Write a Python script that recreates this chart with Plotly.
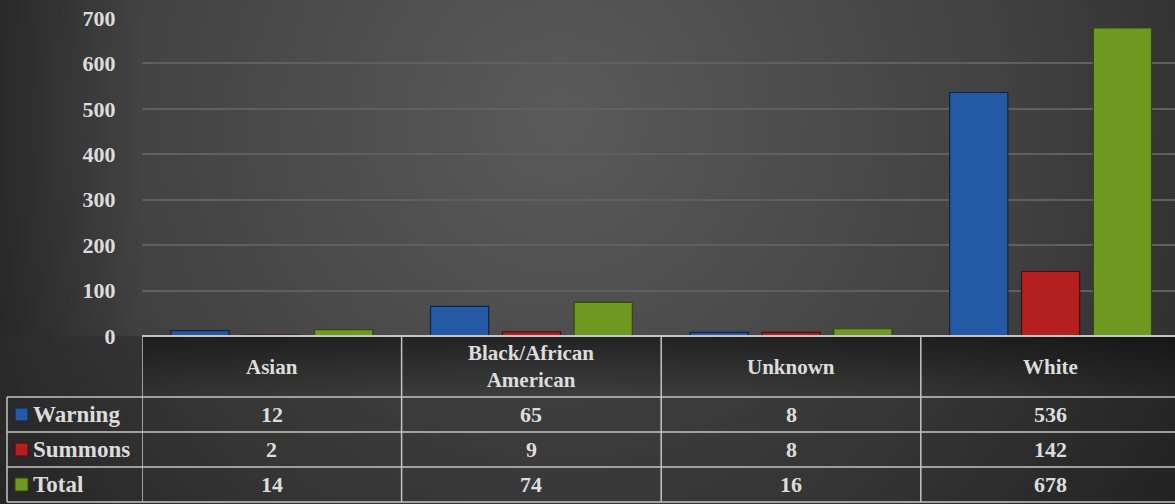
import plotly.graph_objects as go
import urllib.parse

categories = ["Asian", "Black/African American", "Unknown", "White"]
header_labels = ["Asian", "Black/African<br>American", "Unknown", "White"]
series_names = ["Warning", "Summons", "Total"]
warning = [12, 65, 8, 536]
summons = [2, 9, 8, 142]
total = [14, 74, 16, 678]
y_ticks = [0, 100, 200, 300, 400, 500, 600, 700]

values = [warning, summons, total]
fills = ["#2459a6", "#b41f1f", "#6e9a22"]
outlines = ["#0e2446", "#4d0c0c", "#33490f"]

W, H = 1175, 504
ML, MR, MT, MB = 142, 0, 18, 168
PW, PH = W - ML - MR, H - MT - MB

def px(x):
    return (x - ML) / PW

def py(y):
    return (H - MB - y) / PH

FONT = "Liberation Serif"
TXT = "#dcdcdc"

fig = go.Figure()
for name, vals, fc, oc in zip(series_names, values, fills, outlines):
    fig.add_trace(go.Bar(
        x=categories, y=vals, name=name,
        marker=dict(color=fc, line=dict(color=oc, width=1.2)),
        showlegend=False,
    ))

# background svg
svg = f'''<svg xmlns="http://www.w3.org/2000/svg" width="{W}" height="{H}" viewBox="0 0 {W} {H}" preserveAspectRatio="none">
<defs>
<radialGradient id="g" cx="560" cy="120" r="780" gradientUnits="userSpaceOnUse">
<stop offset="0" stop-color="#5a5a5a"/><stop offset="0.6" stop-color="#404040"/><stop offset="1" stop-color="#262626"/>
</radialGradient>
<linearGradient id="s" x1="0" y1="0" x2="0" y2="1">
<stop offset="0" stop-color="#000" stop-opacity="0.45"/><stop offset="1" stop-color="#000" stop-opacity="0.0"/>
</linearGradient>
<linearGradient id="l" x1="0" y1="0" x2="1" y2="0">
<stop offset="0" stop-color="#000" stop-opacity="0.25"/><stop offset="1" stop-color="#000" stop-opacity="0"/>
</linearGradient>
</defs>
<rect x="0" y="0" width="{W}" height="{H}" fill="url(#g)"/>
<rect x="0" y="0" width="{ML}" height="{H - MB}" fill="url(#l)"/>
<rect x="0" y="{H - MB}" width="{W}" height="{MB}" fill="#000" fill-opacity="0.18"/>
<rect x="{ML}" y="{H - MB}" width="{W - ML}" height="60" fill="url(#s)"/>
</svg>'''
src = "data:image/svg+xml;charset=utf-8," + urllib.parse.quote(svg)
fig.add_layout_image(dict(source=src, xref="paper", yref="paper",
                          x=px(0), y=py(0), sizex=W / PW, sizey=H / PH,
                          sizing="stretch", layer="below", xanchor="left", yanchor="top"))

shapes = []
LC = "#c4c4c4"
row_y = [336, 397, 432, 467, 502]
shapes.append(dict(type="line", xref="paper", yref="paper", x0=0, x1=1.01, y0=py(336), y1=py(336),
                   line=dict(color=LC, width=2)))
for yy in row_y[1:]:
    shapes.append(dict(type="line", xref="paper", yref="paper", x0=px(7), x1=1.01, y0=py(yy), y1=py(yy),
                       line=dict(color=LC, width=1.5)))
shapes.append(dict(type="line", xref="paper", yref="paper", x0=px(7), x1=px(7), y0=py(397), y1=py(502),
                   line=dict(color=LC, width=1.5)))
for xb in [-0.5, 0.5, 1.5, 2.5]:
    shapes.append(dict(type="line", xref="x", yref="paper", x0=xb, x1=xb, y0=py(336), y1=py(502),
                       line=dict(color=LC, width=1.5)))

annotations = []
hdr_y = py(366.5)
for i, lab in enumerate(header_labels):
    annotations.append(dict(x=i, y=hdr_y, xref="x", yref="paper", text=lab, showarrow=False,
                            font=dict(family=FONT, size=21, color=TXT, weight="bold"),
                            xanchor="center", yanchor="middle"))
row_centers = [414.5, 449.5, 484.5]
for r, (name, vals, fc, oc) in enumerate(zip(series_names, values, fills, outlines)):
    yc = row_centers[r]
    shapes.append(dict(type="rect", xref="paper", yref="paper", x0=px(15), x1=px(28),
                       y0=py(yc - 6.5), y1=py(yc + 6.5), fillcolor=fc, line=dict(color=oc, width=1)))
    annotations.append(dict(x=px(31), y=py(yc), xref="paper", yref="paper", text=name, showarrow=False,
                            font=dict(family=FONT, size=23, color=TXT, weight="bold"),
                            xanchor="left", yanchor="middle"))
    for i, v in enumerate(vals):
        annotations.append(dict(x=i, y=py(yc), xref="x", yref="paper", text=str(v), showarrow=False,
                                font=dict(family=FONT, size=22, color=TXT, weight="bold"),
                                xanchor="center", yanchor="middle"))

fig.update_layout(
    width=W, height=H,
    margin=dict(l=ML, r=MR, t=MT, b=MB, pad=0),
    paper_bgcolor="#2e2e2e",
    plot_bgcolor="rgba(0,0,0,0)",
    barmode="group", bargap=0.17, bargroupgap=0.19,
    font=dict(family=FONT, color=TXT, size=22, weight="bold"),
    xaxis=dict(type="category", range=[-0.5, -0.5 + PW / 259.6], showticklabels=False,
               showgrid=False, zeroline=False, showline=False, fixedrange=True),
    yaxis=dict(range=[0, 700], tickvals=y_ticks, showgrid=True, gridcolor="#606060", gridwidth=1.5,
               zeroline=False, showline=False, ticks="outside", ticklen=21,
               tickcolor="rgba(0,0,0,0)", tickfont=dict(family=FONT, size=22, color=TXT, weight="bold")),
    shapes=shapes, annotations=annotations,
)

fig.write_html("out.html", config={"displayModeBar": False},
               post_script="document.body.style.margin='0';document.body.style.overflow='hidden';")
